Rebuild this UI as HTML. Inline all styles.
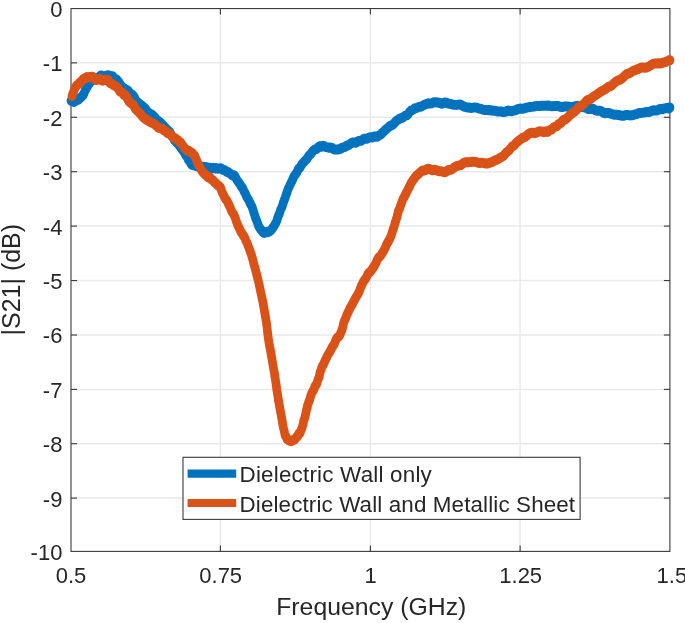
<!DOCTYPE html>
<html><head><meta charset="utf-8"><title>S21</title>
<style>
html,body{margin:0;padding:0;background:#fff;}
body{width:685px;height:623px;overflow:hidden;}
svg{display:block;will-change:transform;opacity:0.999}
text{font-family:"Liberation Sans",sans-serif;fill:#262626;}
</style></head><body>
<svg width="685" height="623" viewBox="0 0 685 623">
<rect width="685" height="623" fill="#fff"/>
<g stroke="#e9e9e9" stroke-width="1.5"><line x1="220.40" y1="8.55" x2="220.40" y2="551.4"/><line x1="370.40" y1="8.55" x2="370.40" y2="551.4"/><line x1="520.10" y1="8.55" x2="520.10" y2="551.4"/><line x1="71.0" y1="62.85" x2="669.9" y2="62.85"/><line x1="71.0" y1="117.30" x2="669.9" y2="117.30"/><line x1="71.0" y1="171.70" x2="669.9" y2="171.70"/><line x1="71.0" y1="226.10" x2="669.9" y2="226.10"/><line x1="71.0" y1="280.55" x2="669.9" y2="280.55"/><line x1="71.0" y1="335.00" x2="669.9" y2="335.00"/><line x1="71.0" y1="389.40" x2="669.9" y2="389.40"/><line x1="71.0" y1="443.70" x2="669.9" y2="443.70"/><line x1="71.0" y1="498.10" x2="669.9" y2="498.10"/></g>
<g stroke="#3a3a3a" stroke-width="1.1" fill="none"><rect x="71.0" y="8.55" width="598.9" height="542.85"/><line x1="220.40" y1="551.4" x2="220.40" y2="545.4"/><line x1="220.40" y1="8.55" x2="220.40" y2="14.55"/><line x1="370.40" y1="551.4" x2="370.40" y2="545.4"/><line x1="370.40" y1="8.55" x2="370.40" y2="14.55"/><line x1="520.10" y1="551.4" x2="520.10" y2="545.4"/><line x1="520.10" y1="8.55" x2="520.10" y2="14.55"/><line x1="71.0" y1="62.85" x2="77.0" y2="62.85"/><line x1="669.9" y1="62.85" x2="663.9" y2="62.85"/><line x1="71.0" y1="117.30" x2="77.0" y2="117.30"/><line x1="669.9" y1="117.30" x2="663.9" y2="117.30"/><line x1="71.0" y1="171.70" x2="77.0" y2="171.70"/><line x1="669.9" y1="171.70" x2="663.9" y2="171.70"/><line x1="71.0" y1="226.10" x2="77.0" y2="226.10"/><line x1="669.9" y1="226.10" x2="663.9" y2="226.10"/><line x1="71.0" y1="280.55" x2="77.0" y2="280.55"/><line x1="669.9" y1="280.55" x2="663.9" y2="280.55"/><line x1="71.0" y1="335.00" x2="77.0" y2="335.00"/><line x1="669.9" y1="335.00" x2="663.9" y2="335.00"/><line x1="71.0" y1="389.40" x2="77.0" y2="389.40"/><line x1="669.9" y1="389.40" x2="663.9" y2="389.40"/><line x1="71.0" y1="443.70" x2="77.0" y2="443.70"/><line x1="669.9" y1="443.70" x2="663.9" y2="443.70"/><line x1="71.0" y1="498.10" x2="77.0" y2="498.10"/><line x1="669.9" y1="498.10" x2="663.9" y2="498.10"/></g>
<g transform="scale(1,1.15)">
<polyline points="71.0,87.68 71.3,87.55 71.7,87.65 72.0,87.88 72.3,87.89 72.7,88.11 73.0,88.07 73.3,88.01 73.6,88.57 73.9,88.67 74.2,88.22 74.6,88.17 75.0,88.18 75.5,87.85 76.1,87.31 76.8,86.96 77.5,87.00 78.3,86.78 79.0,85.95 79.8,85.29 80.6,85.08 81.4,84.24 82.3,83.35 83.2,82.75 84.0,81.21 84.8,79.38 85.7,77.78 86.5,76.39 87.3,75.45 88.2,74.10 89.0,72.91 89.8,72.09 90.7,71.09 91.5,70.29 92.3,69.47 93.2,68.90 94.0,68.87 94.8,69.21 95.7,68.97 96.5,68.16 97.3,67.70 98.2,67.39 99.0,66.99 99.9,66.32 100.7,65.62 101.6,65.67 102.5,66.55 103.3,67.09 104.0,66.54 104.6,66.25 105.1,66.52 105.5,66.25 105.9,65.89 106.4,65.81 107.0,65.69 107.7,65.43 108.5,65.41 109.4,65.84 110.3,66.32 111.1,66.61 112.0,66.38 112.8,66.33 113.7,67.46 114.5,68.57 115.3,68.73 116.2,68.86 117.0,69.39 117.8,70.26 118.7,71.20 119.5,72.34 120.3,73.63 121.2,74.38 122.0,75.18 122.8,76.32 123.6,76.85 124.4,76.92 125.3,77.41 126.1,78.05 127.0,78.21 128.0,78.66 129.0,80.00 130.0,81.20 131.0,81.71 132.0,82.18 133.0,83.00 133.8,83.88 134.6,85.01 135.2,86.47 136.0,87.56 136.9,88.27 138.0,89.17 139.4,90.26 141.0,91.32 142.7,92.43 144.5,93.70 146.3,95.56 148.0,97.55 149.7,98.64 151.3,99.39 153.0,100.48 154.7,101.92 156.3,103.64 158.0,104.91 159.7,105.99 161.5,107.50 163.3,109.14 165.0,110.73 166.6,112.18 168.0,113.37 169.2,114.17 170.1,115.19 171.0,116.71 171.7,118.08 172.4,118.77 173.0,119.20 173.5,120.01 173.8,120.59 174.0,120.75 174.2,121.34 174.5,122.12 175.0,122.28 175.7,122.67 176.4,123.69 177.3,124.48 178.2,125.27 179.1,126.34 180.0,127.30 180.8,128.33 181.7,129.49 182.5,130.40 183.3,131.25 184.2,132.39 185.0,133.72 185.8,135.01 186.7,135.98 187.5,137.24 188.3,138.85 189.2,139.82 190.0,140.78 190.8,142.05 191.5,142.91 192.2,143.46 193.0,143.64 193.9,143.63 195.0,143.95 196.4,144.50 198.1,144.83 200.0,144.95 201.9,144.97 203.6,145.01 205.0,145.12 206.1,145.14 207.0,145.56 207.8,146.20 208.5,146.60 209.2,146.36 210.0,145.81 210.8,146.13 211.7,146.62 212.5,146.33 213.3,145.92 214.2,146.31 215.0,146.51 215.8,146.06 216.7,146.34 217.5,146.67 218.3,146.52 219.2,146.52 220.0,146.40 220.8,146.41 221.7,146.81 222.5,147.32 223.3,147.81 224.2,148.08 225.0,148.09 225.8,148.59 226.7,149.41 227.5,149.59 228.3,149.70 229.2,150.32 230.0,150.88 230.8,151.39 231.6,152.03 232.4,152.52 233.3,152.46 234.1,152.33 235.0,153.29 235.9,154.89 236.9,156.32 237.9,157.79 239.0,158.97 240.0,160.26 241.0,161.84 242.0,162.80 243.0,164.28 244.0,166.33 245.0,167.74 246.0,169.64 247.0,171.73 248.0,173.03 249.1,174.62 250.1,176.73 251.1,178.33 252.1,180.03 253.0,182.40 253.8,184.68 254.5,186.63 255.1,188.33 255.7,189.82 256.4,191.21 257.0,192.60 257.7,194.27 258.3,195.89 259.0,197.12 259.7,198.18 260.3,198.96 261.0,199.72 261.7,200.55 262.3,201.22 262.9,201.74 263.6,202.25 264.3,202.54 265.0,202.26 265.8,201.86 266.6,201.74 267.4,201.94 268.3,201.86 269.2,201.26 270.0,200.85 270.8,200.39 271.7,199.35 272.5,198.37 273.3,197.56 274.2,196.36 275.0,195.11 275.8,193.94 276.7,192.19 277.5,189.93 278.3,187.94 279.2,186.22 280.0,184.05 280.8,181.98 281.7,180.49 282.5,178.64 283.3,176.28 284.2,174.12 285.0,172.30 285.8,170.21 286.7,167.89 287.5,165.81 288.3,164.10 289.2,162.46 290.0,160.84 290.8,159.37 291.7,157.96 292.5,156.50 293.3,154.69 294.2,153.09 295.0,152.11 295.8,151.31 296.6,150.34 297.4,148.74 298.3,147.07 299.1,146.41 300.0,145.76 300.9,144.26 301.9,142.86 302.9,141.79 304.0,140.75 305.0,139.80 306.0,138.93 307.0,138.07 307.9,136.75 308.9,135.38 309.9,134.64 310.9,133.75 312.0,132.42 313.3,131.04 314.7,130.09 316.1,129.75 317.6,128.78 318.9,127.46 320.0,127.06 320.9,127.41 321.5,127.60 322.0,127.45 322.5,127.20 323.1,126.76 324.0,126.84 325.1,127.57 326.4,127.93 327.8,128.18 329.2,128.45 330.6,128.30 332.0,128.57 333.3,129.48 334.7,129.94 336.0,130.00 337.3,130.06 338.7,129.81 340.0,129.55 341.3,128.97 342.7,128.19 344.0,128.00 345.3,127.63 346.7,126.74 348.0,126.26 349.3,125.88 350.7,124.85 352.0,124.14 353.3,123.94 354.7,123.96 356.0,124.12 357.3,123.53 358.7,122.51 360.0,122.42 361.3,122.49 362.7,121.42 364.0,120.58 365.3,120.63 366.7,120.60 368.0,120.15 369.3,119.49 370.7,119.31 372.0,119.47 373.3,119.03 374.7,118.63 376.0,118.96 377.3,118.81 378.7,117.98 380.0,117.31 381.3,116.52 382.7,115.23 384.0,114.05 385.3,113.07 386.7,111.97 388.0,110.97 389.3,109.97 390.7,109.22 392.0,108.87 393.3,108.17 394.7,106.66 396.0,105.36 397.3,104.59 398.7,103.76 400.0,103.13 401.3,102.72 402.7,102.28 404.0,101.41 405.3,100.52 406.7,100.32 408.0,99.54 409.3,97.65 410.7,96.26 412.0,95.97 413.3,95.32 414.6,94.32 415.9,94.04 417.2,93.64 418.6,93.06 420.0,92.93 421.6,92.50 423.2,91.66 424.9,90.99 426.6,90.33 428.3,89.88 430.0,89.90 431.7,89.79 433.3,89.13 435.0,88.83 436.7,89.10 438.3,89.15 440.0,89.63 441.7,90.17 443.3,89.71 445.0,89.06 446.7,89.29 448.3,90.04 450.0,90.36 451.7,90.67 453.3,91.07 455.0,91.16 456.7,91.21 458.3,91.00 460.0,90.79 461.7,91.46 463.3,92.42 465.0,92.95 466.7,93.26 468.3,93.43 470.0,93.72 471.7,93.85 473.3,93.61 475.0,93.40 476.7,93.57 478.3,94.15 480.0,94.51 481.7,94.91 483.3,95.54 485.0,95.70 486.7,95.73 488.3,95.76 490.0,95.74 491.7,96.14 493.3,96.25 495.0,96.27 496.7,96.75 498.3,96.89 500.0,96.91 501.7,97.05 503.3,97.40 505.0,97.37 506.7,96.58 508.3,96.16 510.0,96.54 511.7,96.73 513.3,96.25 515.0,95.92 516.7,95.45 518.3,94.66 520.0,94.43 521.6,94.53 523.3,94.50 524.9,94.09 526.5,93.63 528.2,93.33 530.0,93.04 531.9,92.90 533.9,92.63 535.9,92.22 537.9,92.11 540.0,92.16 542.0,92.02 544.0,91.99 546.0,91.90 548.0,91.78 550.0,92.09 552.0,92.35 554.0,92.27 556.0,92.08 558.0,92.21 560.0,92.87 562.0,93.09 564.0,92.62 566.0,92.50 568.0,92.68 570.0,92.91 572.0,93.14 574.0,92.75 576.0,92.07 578.0,92.24 580.0,92.80 582.1,93.15 584.1,93.35 586.1,93.77 588.1,94.71 590.0,94.88 591.8,94.32 593.5,94.88 595.1,95.87 596.7,96.25 598.4,96.34 600.0,96.40 601.7,96.97 603.3,97.94 605.0,98.44 606.7,98.31 608.3,98.27 610.0,98.64 611.7,99.10 613.3,99.54 615.0,99.72 616.7,99.82 618.3,99.97 620.0,100.13 621.7,100.68 623.3,100.73 625.0,100.24 626.7,100.05 628.3,100.06 630.0,100.33 631.7,100.26 633.3,99.86 635.0,99.60 636.7,99.06 638.3,98.51 640.0,98.30 641.7,98.15 643.3,97.95 645.0,97.66 646.7,97.41 648.3,97.47 650.0,97.24 651.7,96.35 653.4,95.84 655.2,96.14 656.9,96.11 658.5,95.30 660.0,94.73 661.4,95.03 662.7,94.94 663.9,94.24 665.1,94.16 666.1,94.05 667.0,93.84 667.7,93.80 668.3,93.63 668.8,93.97 669.1,94.33 669.5,93.92 670.0,93.49" fill="none" stroke="#0072BD" stroke-width="8.7" stroke-linejoin="round" stroke-linecap="round"/>
<polyline points="72.0,83.51 72.7,81.86 73.3,80.37 73.9,79.03 74.6,77.52 75.3,76.35 76.0,75.11 76.8,74.06 77.6,73.78 78.4,73.17 79.3,72.11 80.2,71.53 81.0,71.05 81.8,70.25 82.7,69.26 83.5,68.56 84.3,68.35 85.2,68.05 86.0,67.34 86.8,67.01 87.7,67.29 88.5,67.10 89.3,67.03 90.2,67.42 91.0,67.03 91.8,66.68 92.7,66.91 93.5,67.51 94.3,68.55 95.2,69.01 96.0,69.26 96.8,69.49 97.7,69.29 98.5,69.10 99.3,68.78 100.2,68.67 101.0,69.13 101.8,69.95 102.7,70.13 103.5,69.68 104.3,69.58 105.2,69.65 106.0,69.68 106.8,69.50 107.7,69.31 108.5,69.89 109.3,71.32 110.2,72.43 111.0,72.45 111.8,72.75 112.7,73.64 113.5,73.99 114.3,74.26 115.2,74.82 116.0,75.34 116.8,75.77 117.7,76.49 118.5,77.68 119.3,78.86 120.2,79.74 121.0,79.94 121.9,80.16 122.8,81.41 123.7,82.54 124.6,82.65 125.3,82.66 126.0,83.05 126.5,83.66 126.8,84.23 127.0,84.92 127.2,85.79 127.5,86.20 128.0,86.83 128.7,87.99 129.4,88.67 130.3,88.99 131.2,89.77 132.1,90.68 133.0,91.08 133.8,91.72 134.5,93.23 135.2,94.61 136.0,95.29 136.9,95.96 138.0,97.00 139.4,98.19 141.0,99.70 142.7,101.56 144.5,103.01 146.3,103.95 148.0,104.91 149.7,105.86 151.4,106.63 153.2,107.33 154.9,108.12 156.5,109.43 158.0,110.86 159.4,111.36 160.7,111.46 161.9,111.86 163.1,112.55 164.1,113.46 165.0,113.87 165.7,113.95 166.1,114.32 166.5,114.77 166.9,115.20 167.3,115.61 168.0,115.98 169.0,116.19 170.1,116.77 171.4,117.98 172.7,119.13 173.9,119.67 175.0,119.99 175.9,120.74 176.8,121.37 177.6,121.64 178.4,122.37 179.2,123.31 180.0,123.58 180.8,124.12 181.7,125.35 182.5,126.35 183.3,127.30 184.2,128.39 185.0,129.21 185.8,129.87 186.7,130.49 187.5,130.72 188.3,130.85 189.2,131.28 190.0,131.98 190.8,132.61 191.7,132.79 192.5,133.29 193.3,134.28 194.2,134.90 195.0,135.92 195.8,137.74 196.7,139.59 197.5,141.40 198.3,142.95 199.2,144.26 200.0,145.69 200.8,147.18 201.7,148.41 202.5,149.38 203.3,150.18 204.2,150.93 205.0,151.64 205.8,152.11 206.7,152.82 207.5,153.68 208.3,154.27 209.2,154.30 210.0,154.16 210.8,155.04 211.7,156.21 212.5,156.65 213.3,157.00 214.2,158.14 215.0,159.03 215.9,159.21 216.7,160.10 217.6,161.02 218.5,161.45 219.3,162.05 220.0,162.58 220.6,163.22 221.0,164.26 221.4,165.42 221.9,166.60 222.3,167.64 223.0,168.53 223.8,170.01 224.8,171.91 225.8,173.25 226.9,174.57 228.0,176.45 229.0,178.28 230.0,180.13 231.0,182.22 232.0,184.21 233.0,185.60 234.0,186.82 235.0,188.95 236.0,191.58 237.0,193.97 238.1,196.29 239.1,198.19 240.1,199.98 241.0,201.84 241.8,202.67 242.6,203.60 243.3,204.92 244.1,205.62 244.9,207.04 245.8,209.12 246.9,210.92 248.0,213.37 249.3,216.56 250.5,219.39 251.7,222.35 252.8,225.88 253.8,229.23 254.7,232.24 255.6,235.02 256.4,237.64 257.2,240.27 258.0,243.04 258.8,246.19 259.6,249.37 260.3,252.25 261.0,255.08 261.7,257.77 262.4,260.59 263.1,263.65 263.7,266.71 264.3,269.75 264.9,272.90 265.5,275.91 266.0,278.43 266.5,280.88 266.9,283.69 267.3,286.91 267.7,289.96 268.1,292.62 268.6,295.63 269.1,298.75 269.7,301.44 270.4,304.32 271.0,307.49 271.6,310.40 272.2,313.37 272.8,316.57 273.3,319.34 273.8,321.73 274.4,324.46 274.9,327.52 275.4,330.13 275.9,332.91 276.4,336.34 276.9,339.46 277.4,342.08 277.9,344.88 278.4,347.96 279.0,350.81 279.6,353.53 280.2,356.46 280.9,359.62 281.5,362.59 282.0,365.19 282.5,367.54 282.9,369.63 283.3,371.42 283.6,372.63 284.0,373.87 284.4,375.59 284.8,377.31 285.2,378.66 285.6,379.19 286.1,379.51 286.5,380.71 287.0,381.84 287.5,382.04 288.0,382.22 288.6,382.62 289.2,382.92 289.8,383.20 290.5,383.45 291.3,383.59 292.1,383.15 293.0,382.54 293.9,382.47 294.7,382.13 295.5,381.29 296.2,380.31 296.8,379.69 297.4,379.57 298.0,378.72 298.5,377.40 299.0,376.88 299.4,377.02 299.8,376.92 300.2,376.36 300.5,375.54 300.9,374.35 301.3,373.45 301.7,372.91 302.2,371.73 302.6,370.25 303.1,368.68 303.5,366.66 304.0,365.09 304.5,364.10 305.0,362.49 305.5,360.46 306.0,358.51 306.5,356.47 307.0,354.76 307.4,353.18 307.8,351.77 308.1,351.17 308.5,350.46 308.9,349.14 309.4,348.00 310.0,346.71 310.6,344.64 311.3,342.80 312.0,341.45 312.7,340.33 313.4,339.42 314.2,337.86 314.9,335.91 315.8,334.91 316.6,334.05 317.3,332.03 318.0,330.14 318.6,329.06 319.1,327.83 319.5,326.11 320.0,324.20 320.4,322.77 321.0,321.74 321.6,320.10 322.3,318.49 323.0,317.63 323.8,316.34 324.6,314.50 325.4,312.96 326.3,311.52 327.2,309.75 328.1,308.20 329.1,306.90 330.1,305.45 331.0,304.01 331.9,302.44 332.8,301.04 333.7,300.01 334.6,298.67 335.4,296.62 336.2,294.92 336.9,294.05 337.5,293.35 338.1,292.96 338.7,292.72 339.3,292.25 340.0,290.97 340.8,289.26 341.5,287.94 342.4,285.81 343.2,282.46 344.1,279.59 345.0,277.88 346.0,275.85 347.0,273.42 348.0,271.69 349.0,269.84 350.1,267.83 351.2,266.32 352.3,264.61 353.4,262.59 354.6,260.76 355.7,258.90 356.9,257.13 358.0,255.64 359.1,253.77 360.2,251.14 361.2,248.75 362.3,246.92 363.4,244.93 364.5,243.55 365.6,242.42 366.8,240.41 367.9,238.29 369.1,237.08 370.3,236.33 371.4,235.05 372.5,233.65 373.6,232.26 374.8,230.52 375.9,228.73 376.9,226.69 378.0,224.70 379.0,223.65 380.1,222.89 381.1,221.74 382.1,220.37 383.1,218.89 384.0,217.55 384.9,216.08 385.8,214.29 386.6,212.55 387.4,211.19 388.2,210.21 389.0,208.94 389.7,207.66 390.4,206.54 391.1,204.93 391.8,203.18 392.4,201.46 393.0,199.74 393.6,198.48 394.1,196.96 394.6,195.37 395.0,194.26 395.5,192.85 396.0,191.34 396.5,189.99 397.0,188.87 397.4,187.40 397.9,185.21 398.4,183.41 399.0,182.46 399.6,181.35 400.2,179.63 400.9,178.08 401.6,176.43 402.3,174.45 403.0,173.04 403.8,171.96 404.6,170.77 405.4,169.20 406.3,167.58 407.2,166.14 408.0,164.69 408.8,163.39 409.6,161.96 410.4,160.39 411.2,159.12 412.1,158.01 413.0,156.72 414.0,155.49 415.1,154.14 416.3,152.78 417.5,151.89 418.8,151.04 420.0,150.01 421.3,148.99 422.6,148.35 423.9,148.35 425.3,148.02 426.7,147.14 428.0,146.76 429.3,146.92 430.6,147.36 431.9,147.95 433.2,147.94 434.6,147.58 436.0,147.90 437.6,148.48 439.2,148.83 440.9,148.97 442.6,149.22 444.3,149.83 446.0,149.48 447.7,148.16 449.3,147.72 451.0,147.55 452.7,146.71 454.3,145.61 456.0,144.58 457.7,144.10 459.3,144.00 461.0,143.46 462.7,142.34 464.3,141.43 466.0,141.08 467.7,140.98 469.3,140.99 471.0,140.85 472.7,140.73 474.3,140.74 476.0,140.83 477.7,141.43 479.3,141.70 481.0,141.50 482.7,141.62 484.3,141.87 486.0,142.24 487.7,142.15 489.4,141.66 491.1,141.26 492.8,140.50 494.4,139.69 496.0,139.17 497.4,138.66 498.8,138.06 500.1,137.31 501.4,136.55 502.7,136.03 504.0,135.15 505.3,133.52 506.7,132.18 508.0,131.58 509.3,130.62 510.7,128.89 512.0,127.43 513.3,126.86 514.7,125.90 516.0,124.34 517.3,123.41 518.7,122.48 520.0,121.49 521.3,120.70 522.6,119.79 523.9,119.42 525.2,119.12 526.6,118.10 528.0,116.85 529.6,115.96 531.3,115.43 533.1,115.48 534.8,115.86 536.5,115.39 538.0,114.55 539.4,114.20 540.6,114.26 541.8,114.34 542.9,114.60 544.0,114.95 545.0,114.51 545.9,114.10 546.8,114.40 547.6,114.67 548.4,114.25 549.2,113.46 550.0,113.07 550.8,112.87 551.7,112.56 552.5,111.94 553.3,111.04 554.2,110.54 555.0,110.27 555.8,110.00 556.7,109.88 557.5,109.18 558.3,108.20 559.2,107.68 560.0,107.24 560.8,106.95 561.7,106.40 562.5,105.16 563.3,104.40 564.2,104.37 565.0,104.02 565.8,103.55 566.5,103.10 567.2,102.60 568.0,101.99 568.9,101.10 570.0,100.18 571.4,98.99 573.0,97.86 574.7,97.09 576.5,95.62 578.3,93.61 580.0,92.42 581.7,91.88 583.3,90.80 585.0,89.17 586.7,87.59 588.3,86.70 590.0,86.31 591.7,85.30 593.3,84.09 595.0,83.19 596.7,82.29 598.3,81.19 600.0,80.11 601.7,79.31 603.3,78.61 605.0,77.73 606.7,76.46 608.3,75.51 610.0,75.11 611.7,74.36 613.3,72.96 615.0,71.57 616.7,70.52 618.3,69.85 620.0,69.37 621.7,68.44 623.3,67.16 625.0,65.68 626.7,64.48 628.3,64.00 630.0,63.42 631.7,62.35 633.3,61.57 635.0,61.08 636.7,60.51 638.3,59.98 640.0,59.22 641.7,58.74 643.3,58.80 645.0,58.91 646.7,58.71 648.3,57.98 650.0,57.17 651.7,56.32 653.4,55.46 655.2,55.27 656.9,55.28 658.5,55.05 660.0,55.18 661.4,55.02 662.7,54.51 663.9,54.33 665.1,54.05 666.1,53.63 667.0,53.31 667.7,52.97 668.3,52.64 668.8,52.53 669.1,52.36 669.5,52.29 670.0,52.36" fill="none" stroke="#D95319" stroke-width="8.7" stroke-linejoin="round" stroke-linecap="round"/>
</g>
<text x="71.00" y="582.5" font-size="22" text-anchor="middle">0.5</text>
<text x="220.70" y="582.5" font-size="22" text-anchor="middle">0.75</text>
<text x="370.70" y="582.5" font-size="22" text-anchor="middle">1</text>
<text x="520.70" y="582.5" font-size="22" text-anchor="middle">1.25</text>
<text x="671.90" y="582.5" font-size="22" text-anchor="middle">1.5</text>
<text x="62.4" y="16.95" font-size="22" text-anchor="end">0</text>
<text x="62.4" y="71.25" font-size="22" text-anchor="end">-1</text>
<text x="62.4" y="125.70" font-size="22" text-anchor="end">-2</text>
<text x="62.4" y="180.10" font-size="22" text-anchor="end">-3</text>
<text x="62.4" y="234.50" font-size="22" text-anchor="end">-4</text>
<text x="62.4" y="288.95" font-size="22" text-anchor="end">-5</text>
<text x="62.4" y="343.40" font-size="22" text-anchor="end">-6</text>
<text x="62.4" y="397.80" font-size="22" text-anchor="end">-7</text>
<text x="62.4" y="452.10" font-size="22" text-anchor="end">-8</text>
<text x="62.4" y="506.50" font-size="22" text-anchor="end">-9</text>
<text x="62.4" y="559.80" font-size="22" text-anchor="end">-10</text>
<text x="371.3" y="614.6" font-size="24.8" text-anchor="middle">Frequency (GHz)</text>
<text transform="translate(20,279.7) rotate(-90)" font-size="25" text-anchor="middle">|S21| (dB)</text>
<rect x="183.0" y="457.3" width="397.1" height="62.1" fill="#fff" stroke="#3a3a3a" stroke-width="1.1"/>
<line x1="187.6" y1="473.7" x2="236.2" y2="473.7" stroke="#0072BD" stroke-width="8.2"/>
<line x1="187.6" y1="503.0" x2="236.2" y2="503.0" stroke="#D95319" stroke-width="8.2"/>
<text x="239.5" y="482" font-size="22.4" textLength="192.3" lengthAdjust="spacing">Dielectric Wall only</text>
<text x="239.5" y="511.8" font-size="22.4" textLength="335.6" lengthAdjust="spacing">Dielectric Wall and Metallic Sheet</text>
</svg></body></html>
